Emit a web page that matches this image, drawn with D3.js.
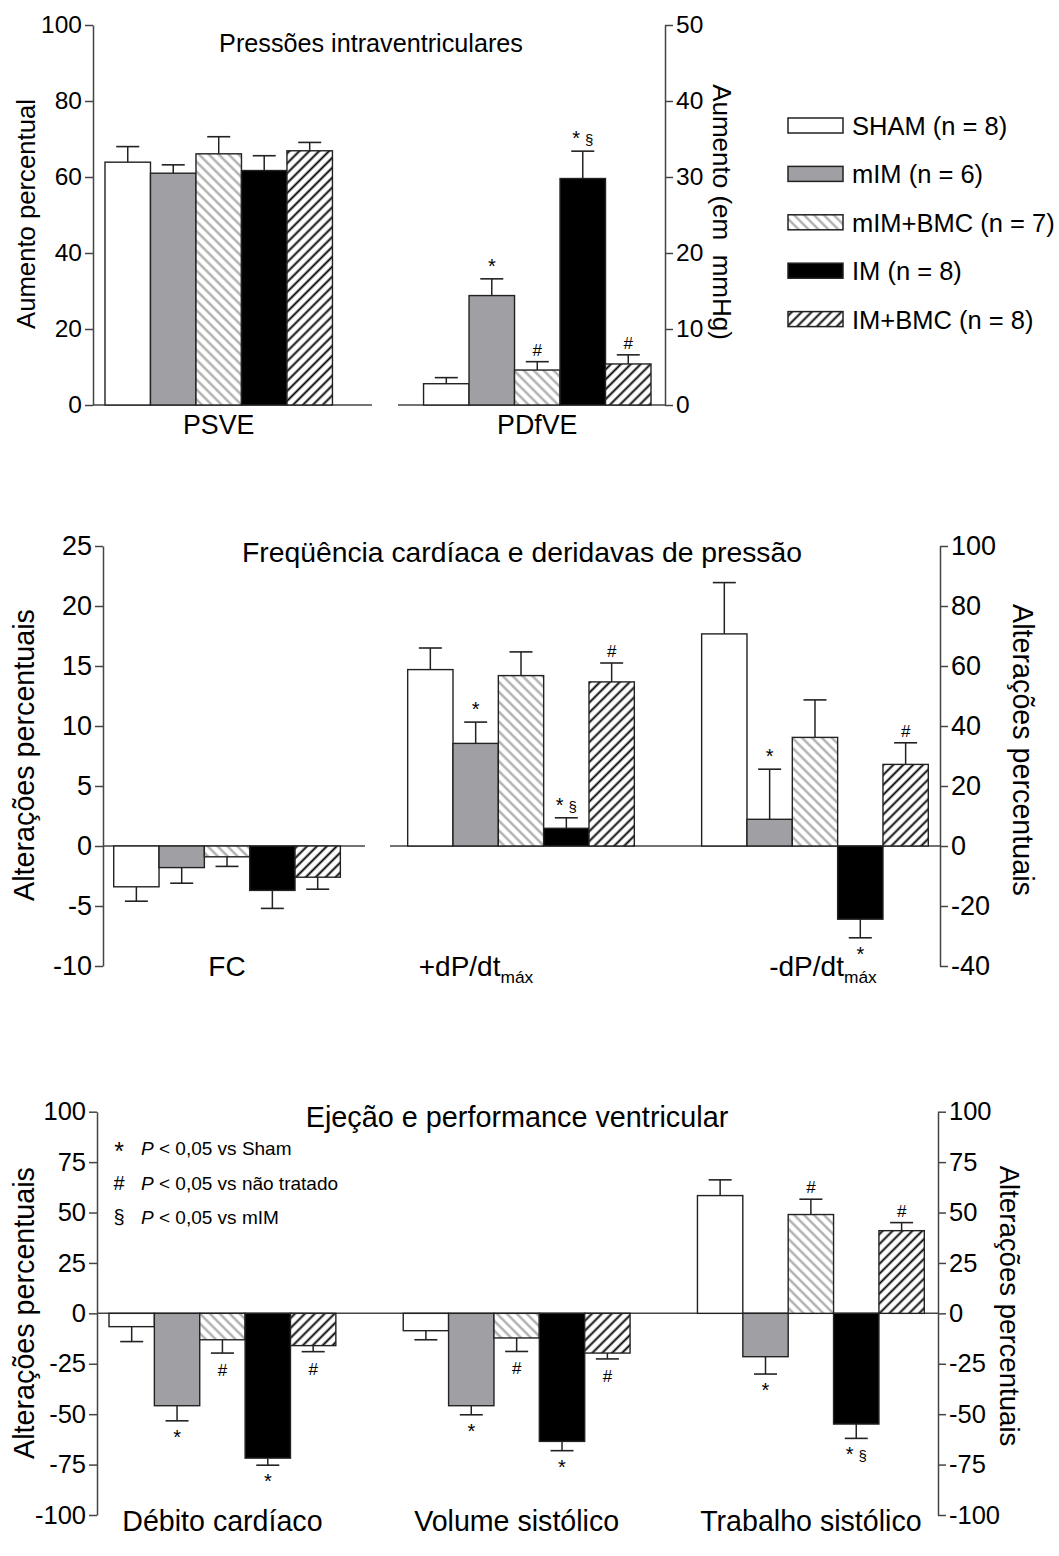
<!DOCTYPE html>
<html><head><meta charset="utf-8">
<script src="https://cdn.jsdelivr.net/npm/d3@7"></script>
<style>
body{margin:0;background:#fff}
text{font-family:"Liberation Sans",Arial,sans-serif;fill:#000}
</style>
</head><body>
<svg id="c" width="1059" height="1556" xmlns="http://www.w3.org/2000/svg"></svg>
<script>
// ---------------- DATA ----------------
const series = ["SHAM (n = 8)", "mIM (n = 6)", "mIM+BMC (n = 7)", "IM (n = 8)", "IM+BMC (n = 8)"];

// Panel 1: Pressões intraventriculares
const p1Categories = ["PSVE", "PDfVE"];
const p1PSVE = [63.9, 61.0, 66.1, 61.7, 66.9];
const p1PSVEErr = [4.1, 2.2, 4.5, 3.9, 2.2];
const p1PDfVE = [2.8, 14.4, 4.6, 29.8, 5.4];
const p1PDfVEErr = [0.8, 2.2, 1.1, 3.6, 1.2];
const p1LeftTicks = [0, 20, 40, 60, 80, 100];
const p1RightTicks = [0, 10, 20, 30, 40, 50];
const p1Marks = [["PDfVE", 1, "*"], ["PDfVE", 2, "#"], ["PDfVE", 3, "*§"], ["PDfVE", 4, "#"]];

// Panel 2: Freqüência cardíaca e derivadas
const p2Categories = ["FC", "+dP/dt", "-dP/dt"];
const p2FC = [-3.4, -1.8, -0.9, -3.7, -2.6];
const p2FCErr = [1.2, 1.3, 0.8, 1.5, 1.0];
const p2Plus = [58.8, 34.2, 56.8, 5.9, 54.7];
const p2PlusErr = [7.2, 7.1, 7.9, 3.5, 6.3];
const p2Minus = [70.7, 8.9, 36.2, -24.4, 27.2];
const p2MinusErr = [17.1, 16.7, 12.5, 6.2, 7.2];
const p2LeftTicks = [-10, -5, 0, 5, 10, 15, 20, 25];
const p2RightTicks = [-40, -20, 0, 20, 40, 60, 80, 100];
const p2Marks = [["+dP/dt", 1, "*"], ["+dP/dt", 3, "*§"], ["+dP/dt", 4, "#"],
                 ["-dP/dt", 1, "*"], ["-dP/dt", 3, "*"], ["-dP/dt", 4, "#"]];

// Panel 3: Ejeção e performance ventricular
const p3Categories = ["Débito cardíaco", "Volume sistólico", "Trabalho sistólico"];
const p3Debito = [-6.6, -45.8, -13.1, -71.8, -16.0];
const p3DebitoErr = [7.4, 7.5, 6.6, 3.5, 3.0];
const p3Volume = [-8.6, -45.8, -12.2, -63.5, -19.7];
const p3VolumeErr = [4.5, 4.5, 6.7, 4.6, 2.9];
const p3Trabalho = [58.4, -21.5, 49.0, -54.9, 41.0];
const p3TrabalhoErr = [7.8, 8.6, 7.6, 7.1, 4.0];
const p3Ticks = [-100, -75, -50, -25, 0, 25, 50, 75, 100];
const p3Marks = [["Débito cardíaco", 1, "*"], ["Débito cardíaco", 2, "#"], ["Débito cardíaco", 3, "*"], ["Débito cardíaco", 4, "#"],
                 ["Volume sistólico", 1, "*"], ["Volume sistólico", 2, "#"], ["Volume sistólico", 3, "*"], ["Volume sistólico", 4, "#"],
                 ["Trabalho sistólico", 1, "*"], ["Trabalho sistólico", 2, "#"], ["Trabalho sistólico", 3, "*§"], ["Trabalho sistólico", 4, "#"]];

const notes = [["*", "P", " < 0,05 vs Sham"], ["#", "P", " < 0,05 vs não tratado"], ["§", "P", " < 0,05 vs mIM"]];

// ---------------- STYLE ----------------
const svg = d3.select("#c");
svg.append("rect").attr("width", 1059).attr("height", 1556).attr("fill", "#fff");
const defs = svg.append("defs");
function hatch(id, angle, color, w) {
  const p = defs.append("pattern").attr("id", id).attr("patternUnits", "userSpaceOnUse")
    .attr("width", 7).attr("height", 7).attr("patternTransform", `rotate(${angle})`);
  p.append("rect").attr("width", 7).attr("height", 7).attr("fill", "#fff");
  p.append("line").attr("x1", 3.5).attr("x2", 3.5).attr("y1", -1).attr("y2", 8)
    .attr("stroke", color).attr("stroke-width", w);
}
hatch("hl", -45, "#a8a8a8", 2.2);
hatch("hd", 45, "#000", 1.9);
const fills = ["#ffffff", "#a09fa4", "url(#hl)", "#000000", "url(#hd)"];
const AX = "#444";

function styleAxis(g, fs) {
  g.selectAll("path,line").attr("stroke", AX).attr("stroke-width", 1.5);
  g.selectAll("text").attr("font-size", fs).attr("fill", "#000")
    .style("font-family", '"Liberation Sans",Arial,sans-serif');
}

function panel(cfg) {
  const g = svg.append("g");
  const yL = d3.scaleLinear().domain(cfg.leftDomain).range([cfg.yBottom, cfg.yTop]);
  const yR = d3.scaleLinear().domain(cfg.rightDomain).range([cfg.yBottom, cfg.yTop]);
  const x0 = d3.scaleBand().domain(cfg.categories).range(cfg.barRange).paddingInner(cfg.pad).paddingOuter(0);
  const x1 = d3.scaleBand().domain(d3.range(series.length)).range([0, x0.bandwidth()]);

  cfg.baselines.forEach(([a, b]) => {
    g.append("line").attr("x1", a).attr("x2", b).attr("y1", yL(0)).attr("y2", yL(0))
      .attr("stroke", AX).attr("stroke-width", 1.5);
  });

  cfg.groups.forEach(gr => {
    const y = gr.axis === "left" ? yL : yR;
    gr.values.forEach((v, i) => {
      const xb = x0(gr.cat) + x1(i);
      const w = x1.bandwidth();
      const cx = xb + w / 2;
      const tip = v >= 0 ? v + gr.errs[i] : v - gr.errs[i];
      g.append("line").attr("x1", cx).attr("x2", cx).attr("y1", y(v)).attr("y2", y(tip))
        .attr("stroke", "#222").attr("stroke-width", 1.5);
      g.append("line").attr("x1", cx - 11.5).attr("x2", cx + 11.5).attr("y1", y(tip)).attr("y2", y(tip))
        .attr("stroke", "#222").attr("stroke-width", 1.6);
      g.append("rect").attr("x", xb).attr("width", w)
        .attr("y", Math.min(y(v), y(0))).attr("height", Math.abs(y(v) - y(0)))
        .attr("fill", fills[i]).attr("stroke", "#222").attr("stroke-width", 1.4);
    });
  });

  cfg.marks.forEach(([cat, i, t]) => {
    const gr = cfg.groups.find(d => d.cat === cat);
    const y = gr.axis === "left" ? yL : yR;
    const v = gr.values[i];
    const tip = v >= 0 ? v + gr.errs[i] : v - gr.errs[i];
    const cx = x0(cat) + x1(i) + x1.bandwidth() / 2;
    const base = v >= 0 ? y(tip) - 6 : y(tip) + 23;
    const tx = g.append("text").attr("x", cx).attr("y", base).attr("text-anchor", "middle");
    if (t === "*§") {
      tx.append("tspan").attr("font-size", 20).text("*");
      tx.append("tspan").attr("font-size", 15).attr("dx", 5).text("§");
    } else {
      tx.attr("font-size", t === "*" ? 20 : 17).text(t);
    }
  });

  const fmt = d => String(d);
  const la = g.append("g").attr("transform", `translate(${cfg.leftX},0)`)
    .call(d3.axisLeft(yL).tickValues(cfg.leftTicks).tickSize(8).tickSizeOuter(0).tickPadding(3).tickFormat(fmt));
  styleAxis(la, cfg.tickFS);
  const ra = g.append("g").attr("transform", `translate(${cfg.rightX},0)`)
    .call(d3.axisRight(yR).tickValues(cfg.rightTicks).tickSize(8).tickSizeOuter(0).tickPadding(3).tickFormat(fmt));
  styleAxis(ra, cfg.tickFS);

  g.append("text").attr("x", cfg.titleX).attr("y", cfg.titleY).attr("text-anchor", "middle")
    .attr("font-size", cfg.titleFS).text(cfg.title);

  cfg.categories.forEach((c, k) => {
    const t = g.append("text").attr("x", x0(c) + x0.bandwidth() / 2 + (cfg.catDx ? cfg.catDx[k] : 0))
      .attr("y", cfg.catY).attr("text-anchor", "middle").attr("font-size", cfg.catFS);
    if (cfg.sub && cfg.sub[k]) {
      t.append("tspan").text(c);
      t.append("tspan").attr("font-size", cfg.catFS * 0.62).attr("dy", 7).text(cfg.sub[k]);
    } else t.text(c);
  });

  g.append("text").attr("transform", `translate(${cfg.leftLabelX},${cfg.leftLabelY}) rotate(-90)`)
    .attr("text-anchor", "middle").attr("font-size", cfg.labelFS).text(cfg.leftLabel);
  g.append("text").attr("transform", `translate(${cfg.rightLabelX},${cfg.rightLabelY}) rotate(90)`)
    .attr("text-anchor", "middle").attr("font-size", cfg.rightLabelFS || cfg.labelFS).style("white-space", "pre").text(cfg.rightLabel);
  return { x0, x1, yL, yR, g };
}

// ---------------- PANEL 1 ----------------
panel({
  leftX: 93, rightX: 665, yTop: 25, yBottom: 405,
  leftDomain: [0, 100], rightDomain: [0, 50],
  leftTicks: p1LeftTicks, rightTicks: p1RightTicks,
  categories: p1Categories, barRange: [105, 651], pad: 0.286,
  groups: [
    { cat: "PSVE", values: p1PSVE, errs: p1PSVEErr, axis: "left" },
    { cat: "PDfVE", values: p1PDfVE, errs: p1PDfVEErr, axis: "right" }
  ],
  marks: p1Marks,
  baselines: [[93, 372], [398, 665]],
  tickFS: 24.5, titleFS: 25.2, catFS: 26.8, labelFS: 25.7, rightLabelFS: 26,
  title: "Pressões intraventriculares", titleX: 371, titleY: 52,
  catY: 434,
  leftLabel: "Aumento percentual", leftLabelX: 34.5, leftLabelY: 214,
  rightLabel: "Aumento (em  mmHg)", rightLabelX: 713, rightLabelY: 212
});

// legend
const leg = svg.append("g");
series.forEach((s, i) => {
  const cy = 125.5 + i * 48.4;
  leg.append("rect").attr("x", 788).attr("y", cy - 7.5).attr("width", 55).attr("height", 15)
    .attr("fill", fills[i]).attr("stroke", "#222").attr("stroke-width", 1.5);
  leg.append("text").attr("x", 852).attr("y", cy + 9.5).attr("font-size", 25.5).text(s);
});

// ---------------- PANEL 2 ----------------
panel({
  leftX: 103, rightX: 940, yTop: 546, yBottom: 966,
  leftDomain: [-10, 25], rightDomain: [-40, 100],
  leftTicks: p2LeftTicks, rightTicks: p2RightTicks,
  categories: p2Categories, barRange: [113.7, 928.3], pad: 0.229,
  groups: [
    { cat: "FC", values: p2FC, errs: p2FCErr, axis: "left" },
    { cat: "+dP/dt", values: p2Plus, errs: p2PlusErr, axis: "right" },
    { cat: "-dP/dt", values: p2Minus, errs: p2MinusErr, axis: "right" }
  ],
  marks: p2Marks,
  baselines: [[103, 365], [390, 940]],
  tickFS: 27, titleFS: 28.3, catFS: 28, labelFS: 28.7,
  title: "Freqüência cardíaca e deridavas de pressão", titleX: 522, titleY: 562,
  catY: 976, sub: [null, "máx", "máx"], catDx: [0, -45, 8],
  leftLabel: "Alterações percentuais", leftLabelX: 34, leftLabelY: 755,
  rightLabel: "Alterações percentuais", rightLabelX: 1013, rightLabelY: 750
});

// ---------------- PANEL 3 ----------------
panel({
  leftX: 97, rightX: 938, yTop: 1111.7, yBottom: 1515,
  leftDomain: [-100, 100], rightDomain: [-100, 100],
  leftTicks: p3Ticks, rightTicks: p3Ticks,
  categories: p3Categories, barRange: [109, 924.3], pad: 0.229,
  groups: [
    { cat: "Débito cardíaco", values: p3Debito, errs: p3DebitoErr, axis: "left" },
    { cat: "Volume sistólico", values: p3Volume, errs: p3VolumeErr, axis: "left" },
    { cat: "Trabalho sistólico", values: p3Trabalho, errs: p3TrabalhoErr, axis: "left" }
  ],
  marks: p3Marks,
  baselines: [[97, 938]],
  tickFS: 25.5, titleFS: 28.8, catFS: 28.6, labelFS: 28.7, rightLabelFS: 27.6,
  title: "Ejeção e performance ventricular", titleX: 517, titleY: 1127,
  catY: 1531,
  leftLabel: "Alterações percentuais", leftLabelX: 34, leftLabelY: 1313,
  rightLabel: "Alterações percentuais", rightLabelX: 1000, rightLabelY: 1306
});

// significance notes
notes.forEach(([sym, p, rest], k) => {
  const yb = 1155 + k * 34.5;
  svg.append("text").attr("x", 119).attr("y", yb + (sym === "*" ? 5 : 0)).attr("text-anchor", "middle")
    .attr("font-size", sym === "*" ? 25 : 20).text(sym);
  const t = svg.append("text").attr("x", 141).attr("y", yb).attr("font-size", 19);
  t.append("tspan").attr("font-style", "italic").text(p);
  t.append("tspan").text(rest);
});
</script>
</body></html>
